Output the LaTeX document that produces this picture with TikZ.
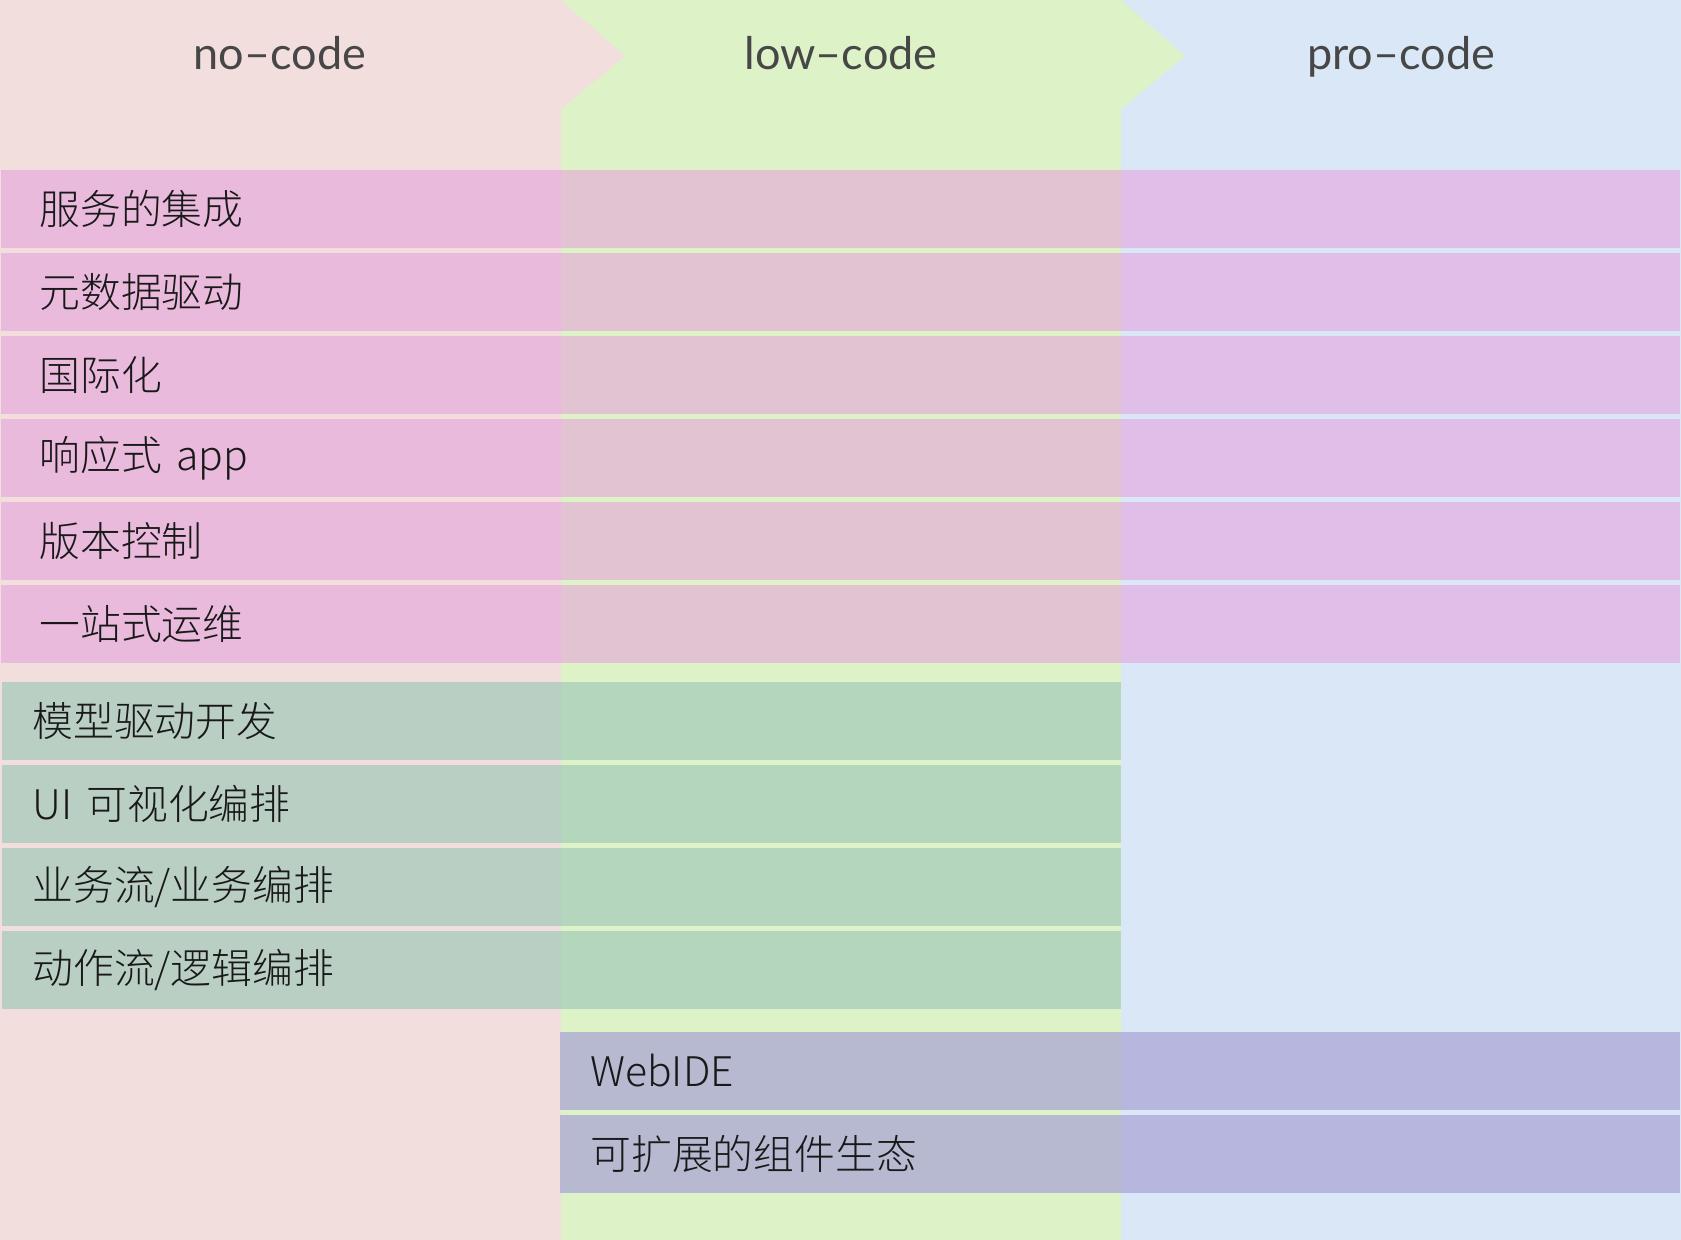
\documentclass[tikz,border=0pt]{standalone}
\usepackage{fontspec}
\usepackage{xcolor}
\setmainfont{Lato}
\newfontfamily\cjk{Noto Sans CJK SC Light}
\usetikzlibrary{positioning}

\definecolor{nocode}{RGB}{243,222,222}
\definecolor{lowcode}{RGB}{222,242,200}
\definecolor{procode}{RGB}{218,231,247}
\definecolor{rosa}{RGB}{228,158,220}
\definecolor{verde}{RGB}{158,201,183}
\definecolor{roxo}{RGB}{167,162,213}

\tikzset{
	titulo/.style={text=black!72, text height=14pt, text depth=4pt, font=\fontsize{22.5}{26}\selectfont},
	item/.style={anchor=west, inner sep=0pt, text=black!90, font=\cjk\fontsize{20.4}{24}\selectfont},
	faixa rosa/.style={fill=rosa, fill opacity=0.55},
	faixa verde/.style={fill=verde, fill opacity=0.67},
	faixa roxa/.style={fill=roxo, fill opacity=0.7}
}

\begin{document}
\begin{tikzpicture}[x=0.5pt, y=-0.5pt]
	\useasboundingbox (0,0) rectangle (1681,1240);
	
	% colunas
	\fill [procode] (1121,0) rectangle (1681,1240);
	\fill [lowcode] (561,0) -- (1121,0) -- (1185,56) -- (1121,109) -- (1121,1240) -- (561,1240) -- cycle;
	\fill [nocode] (0,0) -- (561,0) -- (625,56) -- (561,109) -- (561,1240) -- (0,1240) -- cycle;
	
	\node [titulo] (no) at (280,60) {no–code};
	\node [titulo] (low) at (841,60) {low–code};
	\node [titulo] (pro) at (1401,60) {pro–code};
	
	% faixas comuns
	\fill [faixa rosa] (1,170) rectangle (1680,248);
	\fill [faixa rosa] (1,253) rectangle (1680,331);
	\fill [faixa rosa] (1,336) rectangle (1680,414);
	\fill [faixa rosa] (1,419) rectangle (1680,497);
	\fill [faixa rosa] (1,502) rectangle (1680,580);
	\fill [faixa rosa] (1,585) rectangle (1680,663);
	
	\node [item] (servicos) at (39,209) {服务的集成};
	\node [item] (metadados) at (39,292) {元数据驱动};
	\node [item] (idiomas) at (39,375) {国际化};
	\node [item] (responsivo) at (39,458) {响应式\hspace{0.35em}app};
	\node [item] (versao) at (39,541) {版本控制};
	\node [item] (operacao) at (39,624) {一站式运维};
	
	% faixas no-code e low-code
	\fill [faixa verde] (2,682) rectangle (1121,760);
	\fill [faixa verde] (2,765) rectangle (1121,843);
	\fill [faixa verde] (2,848) rectangle (1121,926);
	\fill [faixa verde] (2,931) rectangle (1121,1009);
	
	\node [item] (modelo) at (32,721) {模型驱动开发};
	\node [item] (ui) at (32,804) {UI\hspace{0.35em}可视化编排};
	\node [item] (negocio) at (32,887) {业务流/业务编排};
	\node [item] (acao) at (32,970) {动作流/逻辑编排};
	
	% faixas low-code e pro-code
	\fill [faixa roxa] (560,1032) rectangle (1680,1110);
	\fill [faixa roxa] (560,1115) rectangle (1680,1193);
	
	\node [item] (webide) at (590,1071) {WebIDE};
	\node [item] (componentes) at (590,1154) {可扩展的组件生态};
\end{tikzpicture}
\end{document}
